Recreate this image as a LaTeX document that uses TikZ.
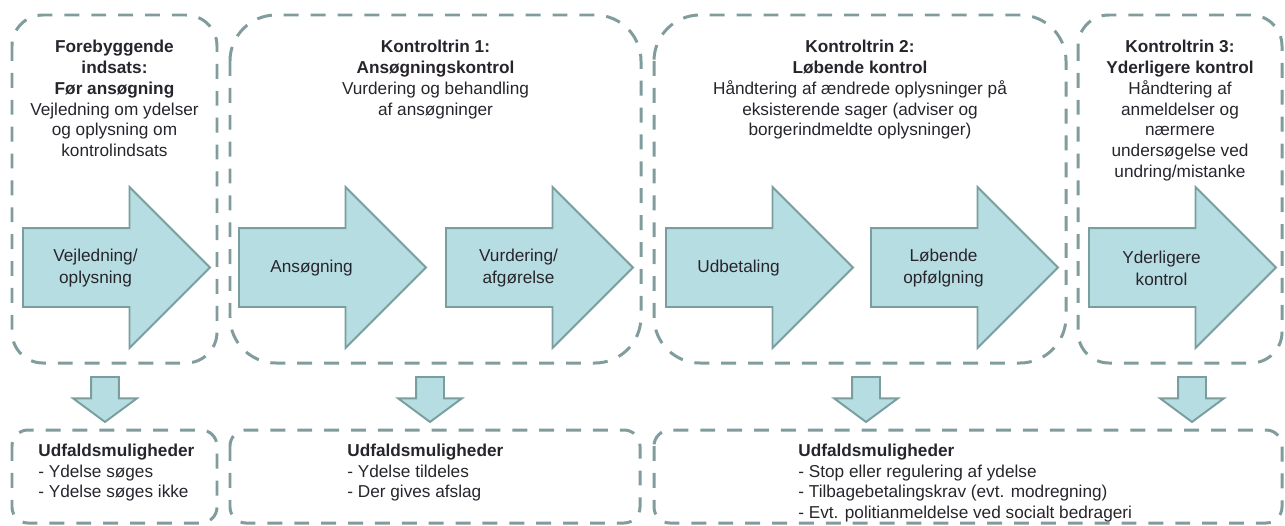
\documentclass[tikz,border=0pt]{standalone}
\usepackage{fontspec}
\setmainfont{Liberation Sans}
\usetikzlibrary{positioning,shapes.arrows}

\definecolor{boxgray}{RGB}{128,156,156}
\definecolor{arrowfill}{RGB}{182,221,225}
\definecolor{arrowline}{RGB}{122,158,158}
\definecolor{bodytext}{RGB}{40,36,44}

\begin{document}
\begin{tikzpicture}[x=0.02cm, y=-0.02cm,
	dashbox/.style={draw=boxgray, line width=1.7pt, dash pattern=on 8.5pt off 6.8pt},
	bigarrow/.style={single arrow, draw=arrowline, fill=arrowfill, line width=1.1pt, inner xsep=0pt, inner ysep=0.77cm, single arrow head extend=0.82cm, single arrow tip angle=90, minimum height=3.74cm, anchor=tail},
	downarrow/.style={single arrow, draw=arrowline, fill=arrowfill, line width=1.1pt, inner sep=0.26cm, single arrow head extend=0.36cm, single arrow tip angle=107, minimum height=0.9cm, shape border rotate=270, anchor=tail},
	arrowlabel/.style={align=center, text=bodytext, font=\fontsize{9.8}{12.4}\selectfont},
	boxtitle/.style={align=center, anchor=north, inner sep=0pt, text=bodytext, font=\fontsize{9.8}{11.8}\selectfont},
	outcome/.style={align=left, anchor=north west, inner sep=0pt, text=bodytext, font=\fontsize{9.8}{11.7}\selectfont}]
	\useasboundingbox (0,0) rectangle (1285,525);

	% dashed frames, top row
	\draw[dashbox, rounded corners=0.62cm] (12,15) rectangle (217,363);
	\draw[dashbox, rounded corners=0.92cm] (230,15) rectangle (641,363);
	\draw[dashbox, rounded corners=0.92cm] (654,15) rectangle (1066,363);
	\draw[dashbox, rounded corners=0.62cm] (1078,15) rectangle (1282,363);
	% dashed frames, bottom row
	\draw[dashbox, rounded corners=0.32cm] (12,430) rectangle (217,523);
	\draw[dashbox, rounded corners=0.32cm] (230,430) rectangle (640,523);
	\draw[dashbox, rounded corners=0.32cm] (654,430) rectangle (1282,523);

	% headings
	\node[boxtitle] (forebyg) at (114.5,40) {\textbf{Forebyggende}\\\textbf{indsats:}\\\textbf{Før ansøgning}\\Vejledning om ydelser\\og oplysning om\\kontrolindsats};
	\node[boxtitle] (trin1) at (435.5,40) {\textbf{Kontroltrin 1:}\\\textbf{Ansøgningskontrol}\\Vurdering og behandling\\af ansøgninger};
	\node[boxtitle] (trin2) at (860,40) {\textbf{Kontroltrin 2:}\\\textbf{Løbende kontrol}\\Håndtering af ændrede oplysninger på\\eksisterende sager (adviser og\\borgerindmeldte oplysninger)};
	\node[boxtitle] (trin3) at (1180,40) {\textbf{Kontroltrin 3:}\\\textbf{Yderligere kontrol}\\Håndtering af\\anmeldelser og\\nærmere\\undersøgelse ved\\undring/mistanke};

	% process arrows
	\node[bigarrow] (vejl) at (22,267.5) {};
	\node[bigarrow] (ansog) at (238,267.5) {};
	\node[bigarrow] (vurd) at (445,267.5) {};
	\node[bigarrow] (udbet) at (665,267.5) {};
	\node[bigarrow] (lobende) at (870,267.5) {};
	\node[bigarrow] (yderl) at (1088,267.5) {};
	\node[arrowlabel] (tvejl) at (95.5,268) {Vejledning/\\oplysning};
	\node[arrowlabel] (tansog) at (311.5,268) {Ansøgning};
	\node[arrowlabel] (tvurd) at (518.5,268) {Vurdering/\\afgørelse};
	\node[arrowlabel] (tudbet) at (738.5,268) {Udbetaling};
	\node[arrowlabel] (tlobende) at (943.5,268) {Løbende\\opfølgning};
	\node[arrowlabel] (tyderl) at (1161.5,268) {Yderligere\\kontrol};

	% down arrows
	\node[downarrow] (ned1) at (105,376) {};
	\node[downarrow] (ned2) at (430,376) {};
	\node[downarrow] (ned3) at (866,376) {};
	\node[downarrow] (ned4) at (1192,376) {};

	% outcomes
	\node[outcome] (udfald1) at (38,444) {\textbf{Udfaldsmuligheder}\\- Ydelse søges\\- Ydelse søges ikke};
	\node[outcome] (udfald2) at (347,444) {\textbf{Udfaldsmuligheder}\\- Ydelse tildeles\\- Der gives afslag};
	\node[outcome] (udfald3) at (798,444) {\textbf{Udfaldsmuligheder}\\- Stop eller regulering af ydelse\\- Tilbagebetalingskrav (evt. modregning)\\- Evt. politianmeldelse ved socialt bedrageri};
\end{tikzpicture}
\end{document}
